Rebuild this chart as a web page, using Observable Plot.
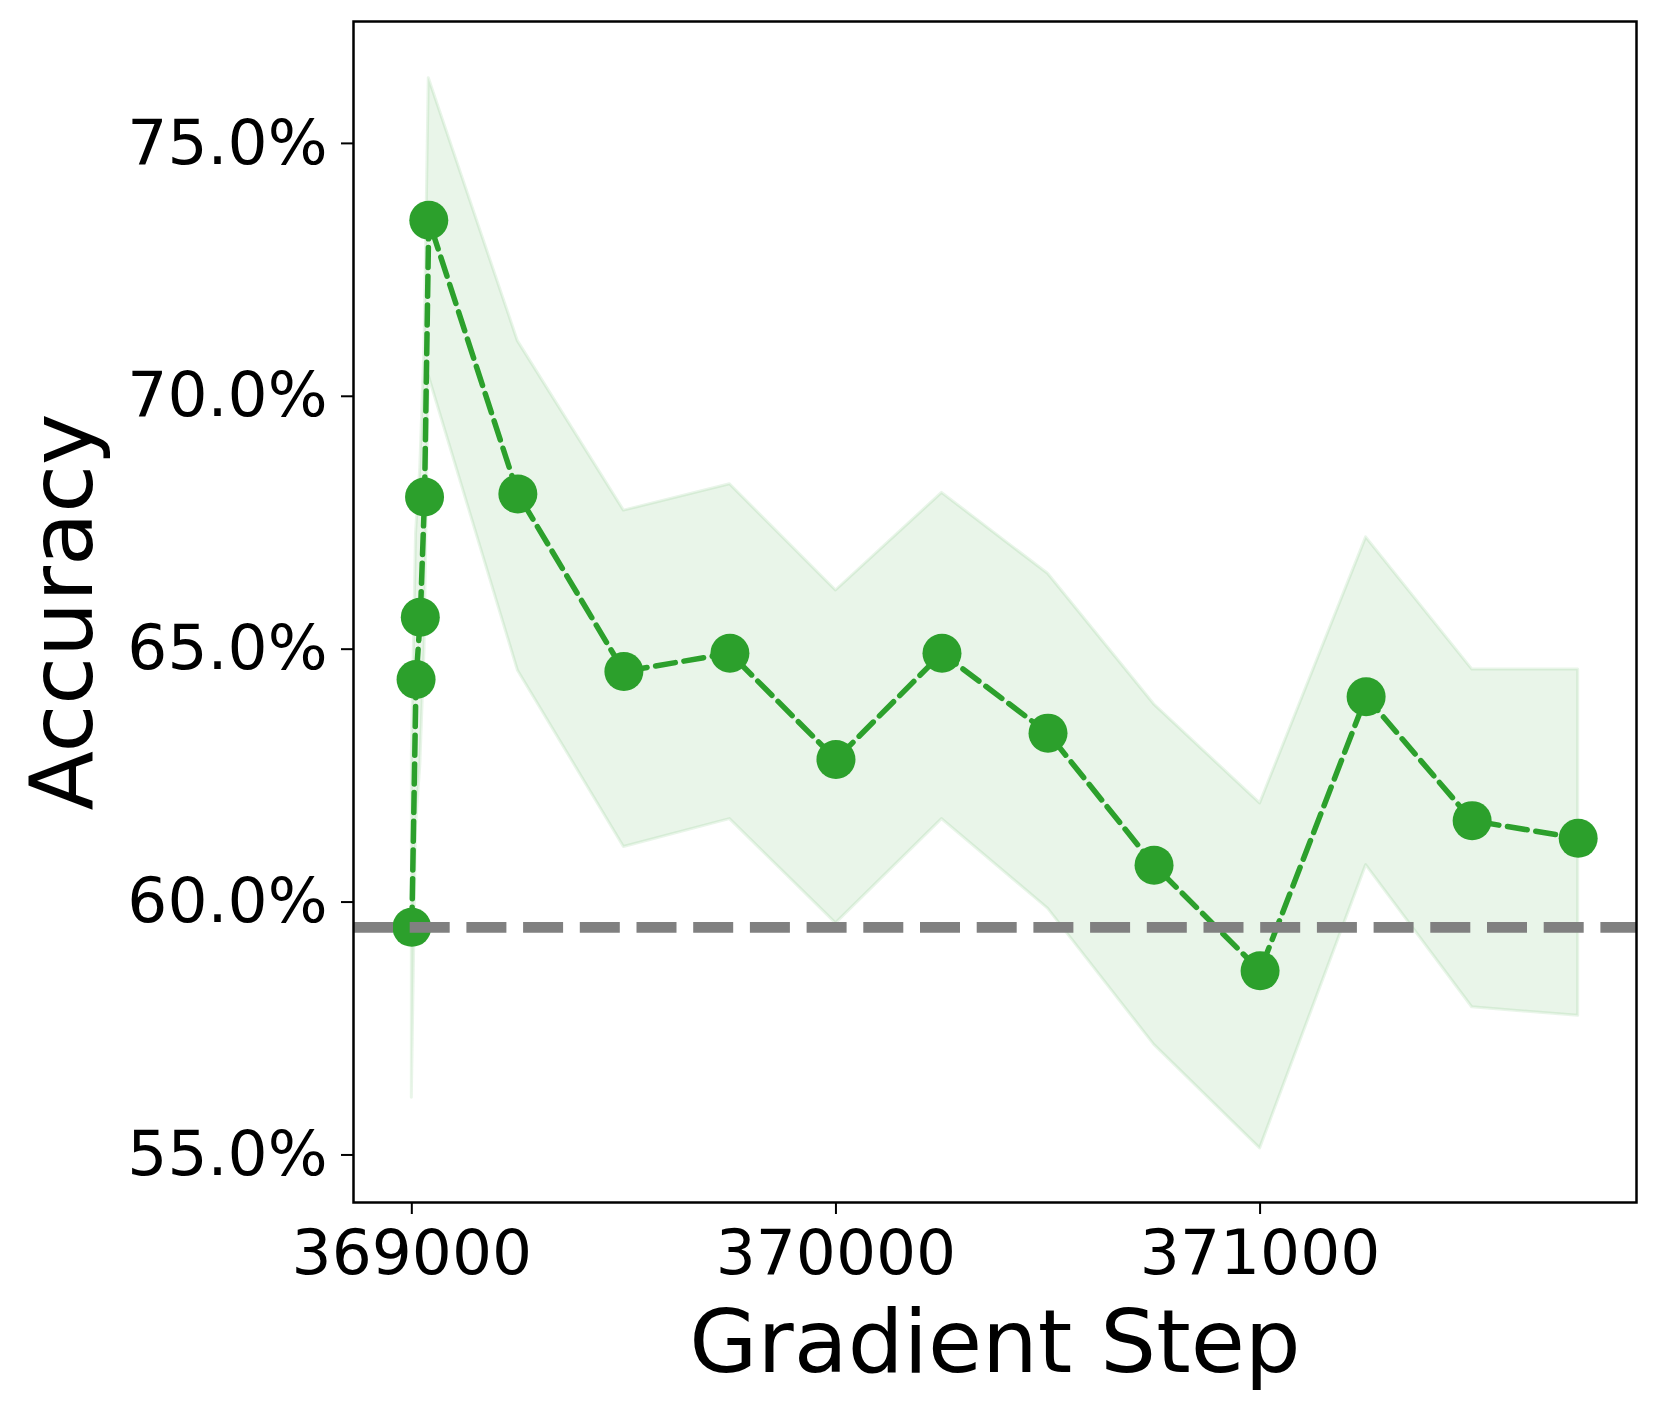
<!DOCTYPE html>
<html>
<head>
<meta charset="utf-8">
<script src="https://cdn.jsdelivr.net/npm/d3@7"></script>
<script src="https://cdn.jsdelivr.net/npm/@observablehq/plot@0.6"></script>
<style>
  html, body { margin: 0; padding: 0; background: #ffffff; }
  #chart svg { display: block; }
</style>
</head>
<body>
<div id="chart"></div>
<script>
// Data
const steps    = [369000, 369010, 369020, 369030, 369040, 369250, 369500, 369750, 370000, 370250, 370500, 370750, 371000, 371250, 371500, 371750];
const accuracy = [59.5, 64.4, 65.63, 68.01, 73.48, 68.07, 64.56, 64.92, 62.82, 64.92, 63.34, 60.73, 58.64, 64.06, 61.61, 61.26];
const upper    = [62.9, 67.3, 68.6, 71.0, 76.29, 71.09, 67.74, 68.26, 66.16, 68.09, 66.49, 63.91, 61.95, 67.21, 64.60, 64.60];
const lower    = [56.13, 61.5, 62.7, 65.0, 70.4, 64.58, 61.09, 61.64, 59.58, 61.64, 59.87, 57.18, 55.13, 60.73, 57.92, 57.75];
const baseline = 59.5;
const xTicks = [369000, 370000, 371000];
const yTicks = [55, 60, 65, 70, 75];
const xLabel = "Gradient Step";
const yLabel = "Accuracy";

const rows = steps.map((s, i) => ({step: s, acc: accuracy[i], hi: upper[i], lo: lower[i]}));
const green = "#2ca02c";

const chart = Plot.plot({
  width: 1662,
  height: 1415,
  marginLeft: 353,
  marginRight: 26,
  marginTop: 21,
  marginBottom: 213,
  style: {fontFamily: "'DejaVu Sans', sans-serif", background: "#ffffff", color: "#000000"},
  x: {domain: [368862.5, 371887.5]},
  y: {domain: [54.06, 77.41]},
  marks: [
    Plot.areaY(rows, {x: "step", y1: "lo", y2: "hi", fill: green, fillOpacity: 0.1, stroke: green, strokeOpacity: 0.1, strokeWidth: 3}),
    Plot.line(rows, {x: "step", y: "acc", stroke: green, strokeWidth: 5.5, strokeDasharray: "20 8.7"}),
    Plot.dot(rows, {x: "step", y: "acc", r: 19.5, fill: green, stroke: "none"}),
    Plot.ruleY([baseline], {stroke: "#808080", strokeWidth: 10.7, strokeDasharray: "40 16.7"}),
    Plot.frame({stroke: "#000000", strokeWidth: 2.5}),
    Plot.axisX({ticks: xTicks, tickFormat: d => String(d), tickSize: 12, tickPadding: 15, fontSize: 63, label: null, stroke: "#000000", strokeWidth: 2}),
    Plot.axisY({ticks: yTicks, tickFormat: d => d.toFixed(1) + "%", tickSize: 12, tickPadding: 14, fontSize: 63, label: null, stroke: "#000000", strokeWidth: 2}),
    Plot.text([xLabel], {frameAnchor: "bottom", dy: 141, fontSize: 88, lineAnchor: "middle", textAnchor: "middle", fill: "#000000"}),
    Plot.text([yLabel], {frameAnchor: "left", dx: -289, rotate: -90, fontSize: 87, lineAnchor: "middle", textAnchor: "middle", fill: "#000000"})
  ]
});
document.getElementById("chart").appendChild(chart);
</script>
</body>
</html>
